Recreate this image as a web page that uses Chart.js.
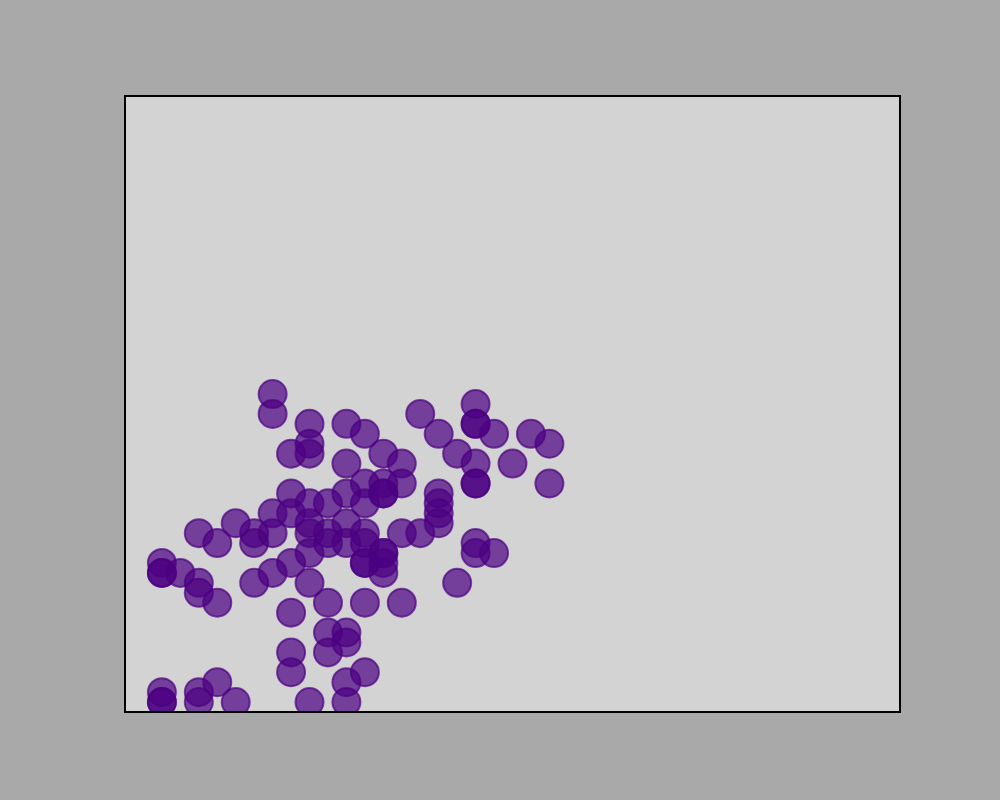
<!DOCTYPE html>
<html>
<head>
<meta charset="utf-8">
<script src="https://cdn.jsdelivr.net/npm/chart.js@4/dist/chart.umd.min.js"></script>
<style>
  html, body { margin: 0; padding: 0; background: #a9a9a9; }
  #wrap { width: 1000px; height: 800px; }
</style>
</head>
<body>
<div id="wrap"><canvas id="c" width="1000" height="800"></canvas></div>
<script>
const xValues = [
  8, 8, 10, 10, 9, 10, 12, 13, 14, 12, 15, 15, 14, 13, 14, 14, 13, 12,
  16, 17, 18, 19, 19, 19, 20, 19, 21, 22, 23, 23, 19, 19, 17, 17, 17, 17,
  16, 15, 19, 19, 20, 18,
  9, 9, 10, 11, 10, 10, 11, 11, 12, 12, 13, 13, 13, 13, 14, 14, 14, 14,
  9, 8, 7, 10, 10, 8, 8, 7, 7, 6, 4, 5, 2, 2, 2, 3, 4, 4, 5,
  9, 11, 13, 15, 11, 12, 12, 11, 9, 9, 13, 12, 12, 10, 2, 2, 2, 4, 4, 5, 6
];
const yValues = [
  32, 30, 29, 27, 26, 26, 29, 28, 26, 25, 25, 23, 23, 23, 22, 22, 21, 22,
  30, 28, 26, 31, 29, 29, 28, 25, 25, 28, 27, 23, 23, 23, 22, 21, 20, 19,
  18, 18, 17, 16, 16, 13,
  22, 20, 21, 21, 19, 18, 18, 17, 19, 17, 18, 17, 15, 15, 16, 16, 15, 14,
  15, 14, 13, 16, 13, 20, 18, 18, 17, 19, 18, 17, 15, 14, 14, 14, 13, 12, 11,
  10, 11, 11, 11, 8, 8, 7, 6, 6, 4, 4, 3, 1, 1, 2, 1, 1, 2, 1, 3, 1
];
const xRange = [0, 42];
const yRange = [0, 62];

const points = xValues.map((x, k) => ({ x: x, y: yValues[k] }));

const frame = {
  id: 'frame',
  beforeDatasetsDraw(chart) {
    const a = chart.chartArea, ctx = chart.ctx;
    ctx.save();
    ctx.fillStyle = '#d3d3d3';
    ctx.fillRect(a.left, a.top, a.right - a.left, a.bottom - a.top);
    ctx.restore();
  },
  afterDraw(chart) {
    const a = chart.chartArea, ctx = chart.ctx;
    ctx.save();
    ctx.strokeStyle = '#000000';
    ctx.lineWidth = 2;
    ctx.strokeRect(a.left, a.top, a.right - a.left, a.bottom - a.top);
    ctx.restore();
  }
};

new Chart(document.getElementById('c'), {
  type: 'scatter',
  data: {
    datasets: [{
      data: points,
      backgroundColor: 'rgba(75,0,130,0.7)',
      borderColor: 'rgba(75,0,130,0.7)',
      borderWidth: 2,
      pointRadius: 14,
      pointHoverRadius: 14,
      clip: 0
    }]
  },
  options: {
    responsive: false,
    animation: false,
    events: [],
    layout: { padding: { left: 125, right: 100, top: 96, bottom: 88 } },
    plugins: { legend: { display: false }, tooltip: { enabled: false } },
    scales: {
      x: { type: 'linear', min: xRange[0], max: xRange[1], display: false },
      y: { type: 'linear', min: yRange[0], max: yRange[1], display: false }
    }
  },
  plugins: [frame]
});
</script>
</body>
</html>
